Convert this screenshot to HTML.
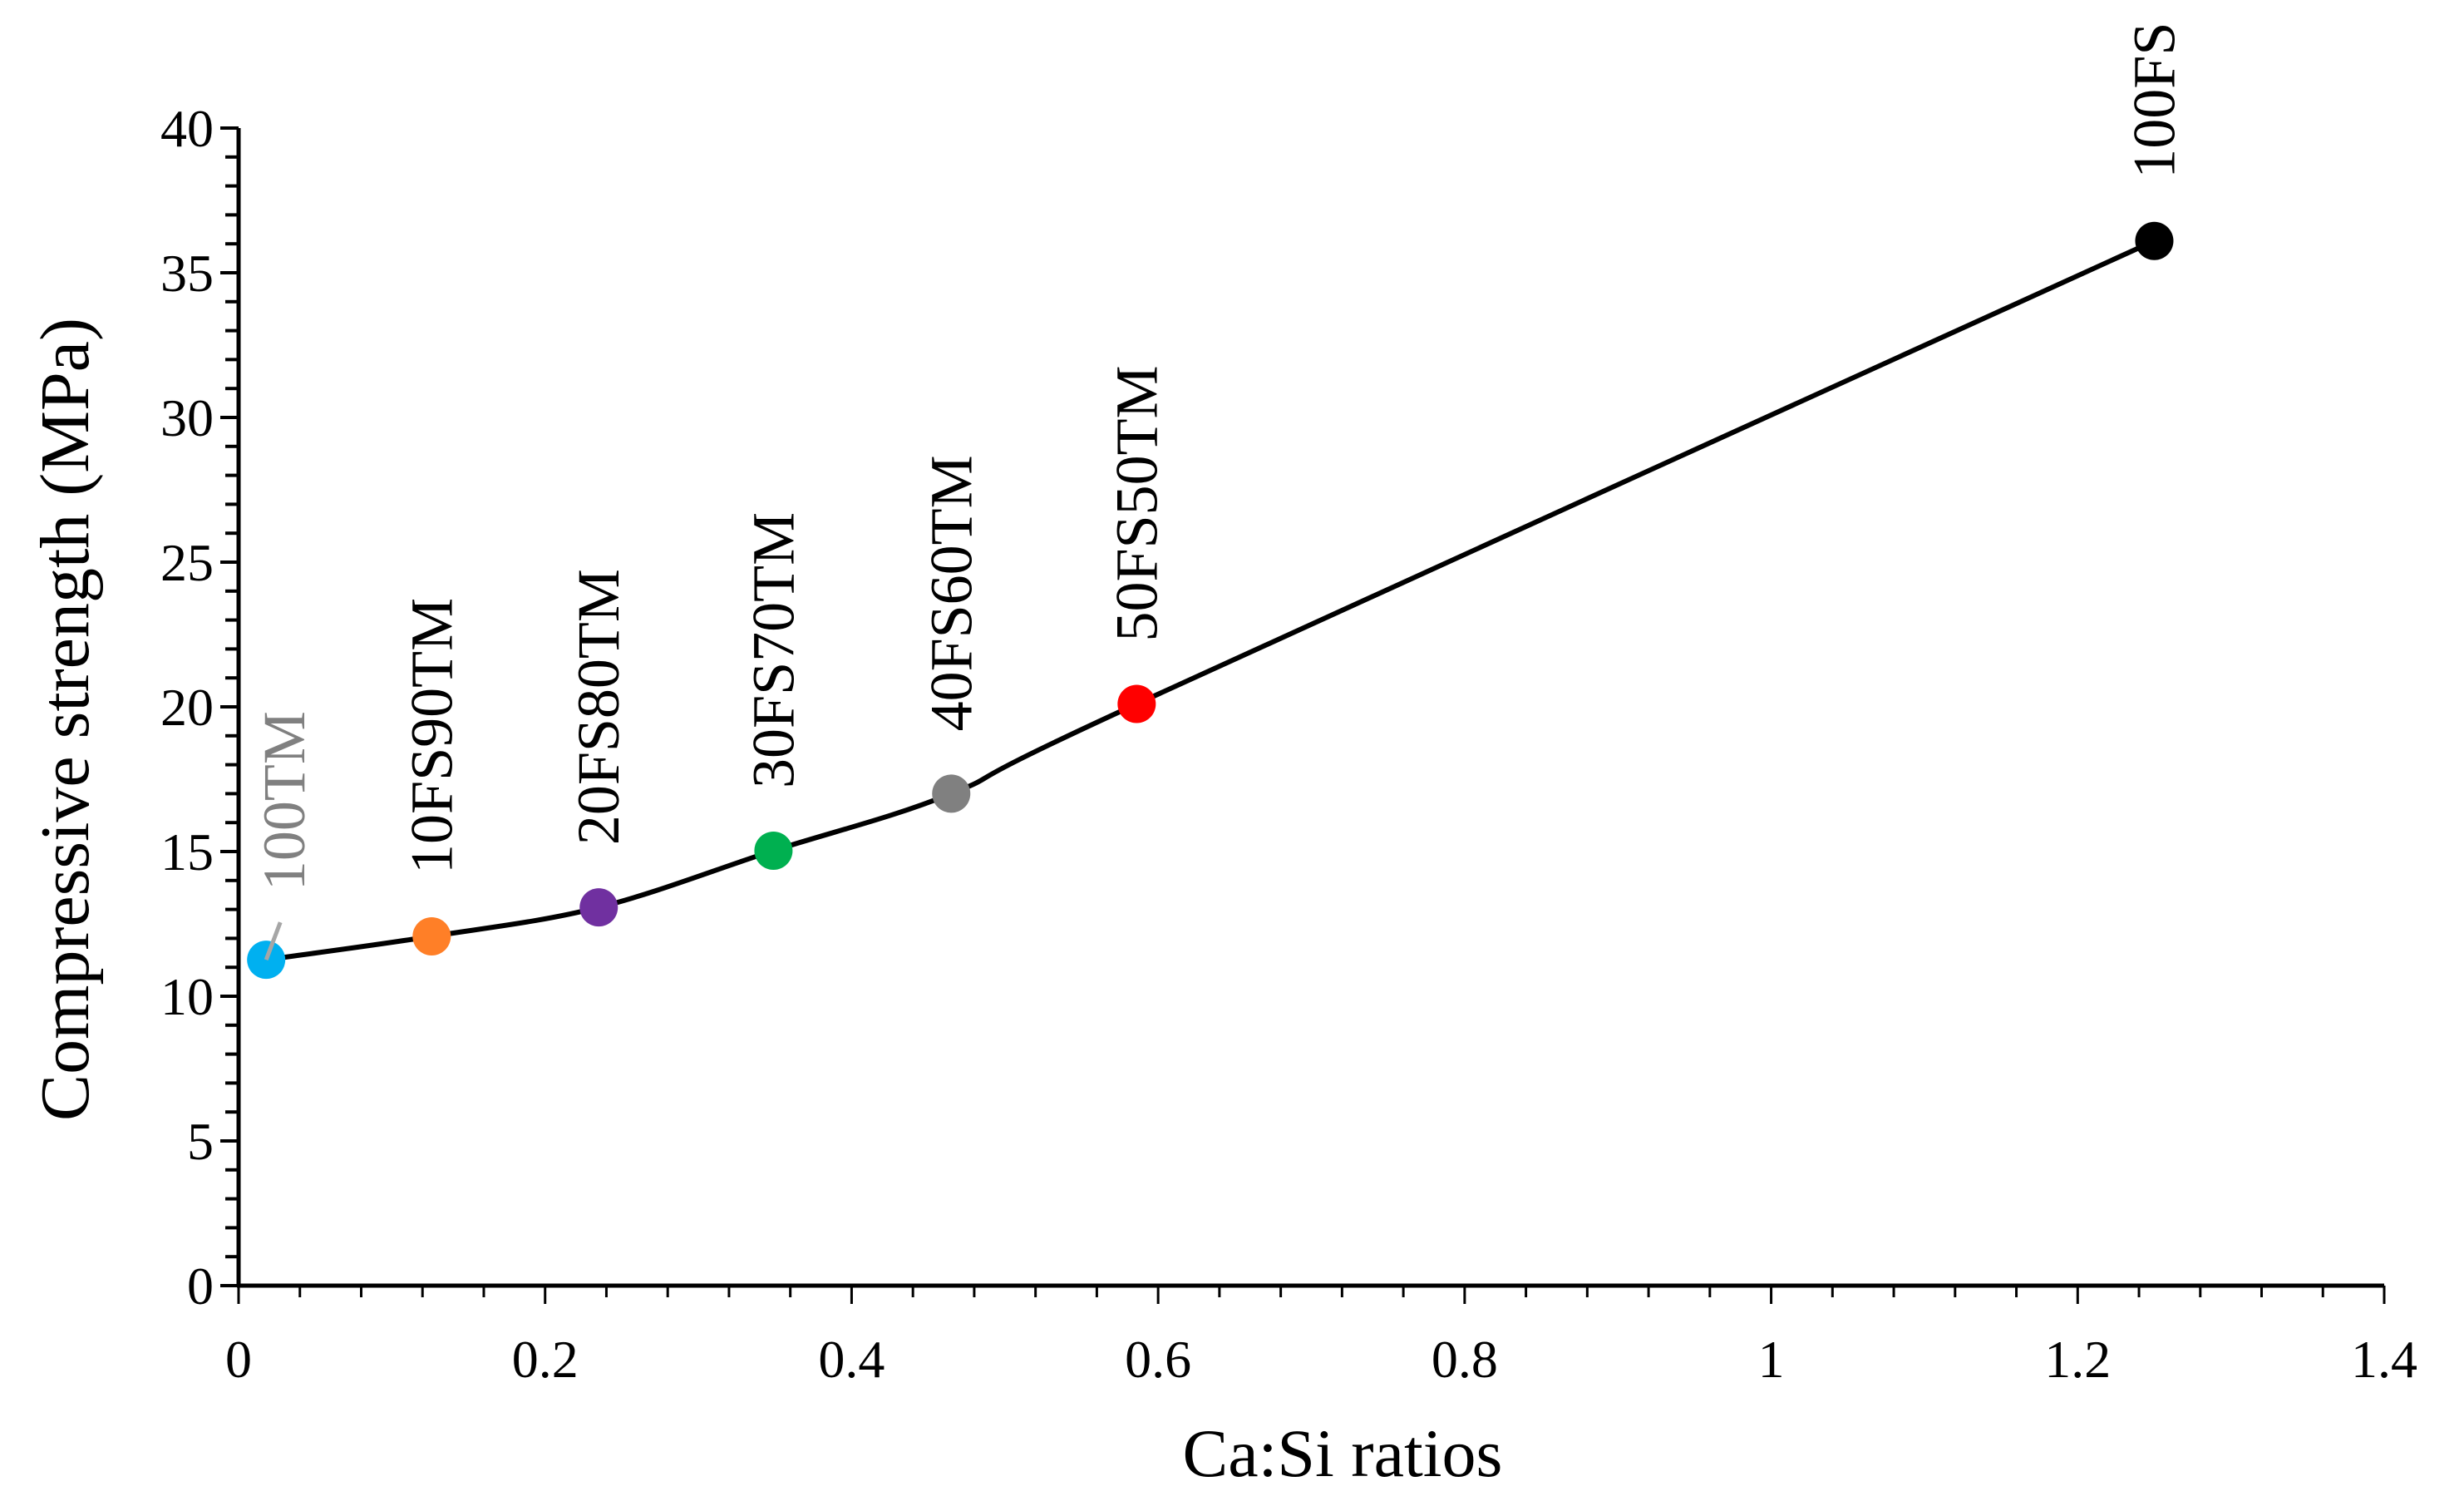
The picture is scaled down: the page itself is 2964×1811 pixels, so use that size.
<!DOCTYPE html>
<html><head><meta charset="utf-8"><style>
html,body{margin:0;padding:0;background:#fff;}
svg{display:block;font-family:"Liberation Serif",serif;}
</style></head><body>
<svg id="chart" width="2964" height="1811" viewBox="0 0 2964 1811" xmlns="http://www.w3.org/2000/svg">
<g id="axes"></g>
<g id="series"></g>
<text transform="translate(106,865) rotate(-90)" text-anchor="middle" font-size="84">Compressive strength (MPa)</text>
<text x="1615" y="1775" text-anchor="middle" font-size="82">Ca:Si ratios</text>
</svg>
<script>
const labels = ["100TM","10FS90TM","20FS80TM","30FS70TM","40FS60TM","50FS50TM","100FS"];
const xValues = [0.018,0.126,0.235,0.349,0.465,0.586,1.25];
const yValues = [11.26,12.07,13.07,15.03,17.0,20.1,36.1];
const colors = ["#00b0f0","#ff7f27","#7030a0","#00b050","#808080","#ff0000","#000000"];
const xTicks = ["0","0.2","0.4","0.6","0.8","1","1.2","1.4"];
const yTicks = ["0","5","10","15","20","25","30","35","40"];

const X0=287, X1=2868, Y0=1546, Y1=154;
const xs = v => X0 + (v/1.4)*(X1-X0);
const ys = v => Y0 - (v/40)*(Y0-Y1);
const NS="http://www.w3.org/2000/svg";
function mk(tag, attrs, parent){const e=document.createElementNS(NS,tag);for(const k in attrs)e.setAttribute(k,attrs[k]);parent.appendChild(e);return e;}
const axes=document.getElementById('axes'), series=document.getElementById('series');

let yl=mk('line',{x1:X0,y1:Y0+2,x2:X0,y2:Y1,stroke:'#000','stroke-width':5},axes);


let xl=mk('line',{x1:X0-2,y1:Y0,x2:X1,y2:Y0,stroke:'#000','stroke-width':5},axes);



for(let i=0;i<=40;i++){
  const y=ys(i), major=i%5===0;
  const t=mk('line',{x1:X0-(major?22:16),y1:y,x2:X0,y2:y,stroke:'#000','stroke-width':4},axes);
  
  
}
yTicks.forEach(s=>{
  const t=mk('text',{x:X0-30,y:ys(parseFloat(s))+22,'text-anchor':'end','font-size':64},axes);
  t.textContent=s;
  
  
});
for(let i=0;i<=35;i++){
  const x=xs(i*0.04), major=i%5===0;
  const t=mk('line',{x1:x,y1:Y0,x2:x,y2:Y0+(major?22:14),stroke:'#000','stroke-width':3},axes);
  
  
}
xTicks.forEach(s=>{
  const t=mk('text',{x:xs(parseFloat(s)),y:1656,'text-anchor':'middle','font-size':64},axes);
  t.textContent=s;
  
  
});

const P=xValues.map((v,i)=>[xs(v),ys(yValues[i])]);
let d=`M${P[0][0]},${P[0][1]}`;
for(let i=0;i<P.length-1;i++){
  const p0=P[i-1]||P[i],p1=P[i],p2=P[i+1],p3=P[i+2]||P[i+1];
  const c1=[p1[0]+(p2[0]-p0[0])/6,p1[1]+(p2[1]-p0[1])/6];
  const c2=[p2[0]-(p3[0]-p1[0])/6,p2[1]-(p3[1]-p1[1])/6];
  d+=` C${c1[0]},${c1[1]} ${c2[0]},${c2[1]} ${p2[0]},${p2[1]}`;
}
const line=mk('path',{d:d,fill:'none',stroke:'#000','stroke-width':6},series);



P.forEach((p,i)=>{
  const c=mk('circle',{cx:p[0],cy:p[1],r:23,fill:colors[i]},series);
  
  
  let lx=p[0]+24, ly=p[1]-75, fill='#000';
  if(i===0){
    lx=p[0]+46; ly=p[1]-83; fill='#808080';
    const ld=mk('line',{x1:p[0],y1:p[1],x2:p[0]+17,y2:p[1]-45,stroke:'#a6a6a6','stroke-width':5},series);
    
    
  }
  const t=mk('text',{transform:`translate(${lx},${ly}) rotate(-90)`,'font-size':72,fill:fill},series);
  t.textContent=labels[i];
  
  
});
</script>
</body></html>
